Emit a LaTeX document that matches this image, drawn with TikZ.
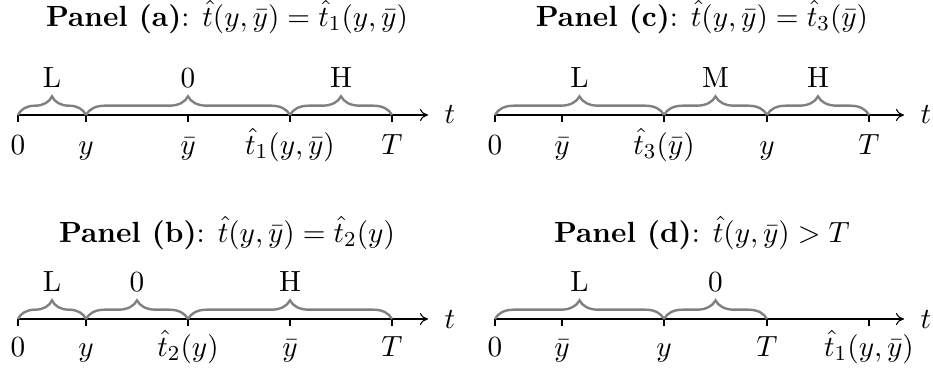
\documentclass[tikz,border=0pt]{standalone}
\usetikzlibrary{decorations.pathreplacing,arrows.meta}
\begin{document}
\begin{tikzpicture}[x=0.375pt,y=-0.375pt,
  every node/.style={font=\fontsize{10.95}{13.6}\selectfont},
  axis/.style={-{To[length=3pt,width=4.5pt]}, line width=0.4pt},
  tickmark/.style={line width=0.4pt},
  br/.style={decorate, decoration={brace,amplitude=7pt}, draw=gray, line width=0.9pt},
  ticklab/.style={anchor=base, inner sep=0pt},
  brlab/.style={anchor=base, inner sep=0pt},
  tlab/.style={anchor=base west, inner sep=0pt},
  ptitle/.style={anchor=base, inner sep=0pt}]
\useasboundingbox (0,0) rectangle (933,371);

% ---------------- Panel (a)
\node[ptitle] (ta) at (227,26) {\textbf{Panel (a)}: $\hat t(y,\bar y)=\hat t_1(y,\bar y)$};
\coordinate (a0) at (18,115);
\coordinate (a1) at (86,115);
\coordinate (a2) at (188,115);
\coordinate (a3) at (290,115);
\coordinate (a4) at (392,115);
\coordinate (aE) at (428,115);
\draw[axis] (a0) -- (aE);
\node[tlab] (at) at (444,123) {$t$};
\foreach \c/\l in {a0/{0},a1/{y},a2/{\bar y},a3/{\hat t_1(y,\bar y)},a4/{T}}{
  \draw[tickmark] (\c) -- ++(0,7);
  \node[ticklab] (\c-l) at ([yshift=-39*0.375pt]\c) {$\l$};
}
\draw[br] (a0) -- (a1) coordinate[midway] (ab1);
\draw[br] (a1) -- (a3) coordinate[midway] (ab2);
\draw[br] (a3) -- (a4) coordinate[midway] (ab3);
\node[brlab] (aL) at ([yshift=28*0.375pt]ab1) {L};
\node[brlab] (aZ) at ([yshift=28*0.375pt]ab2) {0};
\node[brlab] (aH) at ([yshift=28*0.375pt]ab3) {H};

% ---------------- Panel (c)
\node[ptitle] (tc) at (702,26) {\textbf{Panel (c)}: $\hat t(y,\bar y)=\hat t_3(\bar y)$};
\coordinate (c0) at (495,115);
\coordinate (c1) at (562,115);
\coordinate (c2) at (664,115);
\coordinate (c3) at (767,115);
\coordinate (c4) at (869,115);
\coordinate (cE) at (904,115);
\draw[axis] (c0) -- (cE);
\node[tlab] (ct) at (920,123) {$t$};
\foreach \c/\l in {c0/{0},c1/{\bar y},c2/{\hat t_3(\bar y)},c3/{y},c4/{T}}{
  \draw[tickmark] (\c) -- ++(0,7);
  \node[ticklab] (\c-l) at ([yshift=-39*0.375pt]\c) {$\l$};
}
\draw[br] (c0) -- (c2) coordinate[midway] (cb1);
\draw[br] (c2) -- (c3) coordinate[midway] (cb2);
\draw[br] (c3) -- (c4) coordinate[midway] (cb3);
\node[brlab] (cL) at ([yshift=28*0.375pt]cb1) {L};
\node[brlab] (cM) at ([yshift=28*0.375pt]cb2) {M};
\node[brlab] (cH) at ([yshift=28*0.375pt]cb3) {H};

% ---------------- Panel (b)
\node[ptitle] (tb) at (227,242) {\textbf{Panel (b)}: $\hat t(y,\bar y)=\hat t_2(y)$};
\coordinate (b0) at (18,319);
\coordinate (b1) at (86,319);
\coordinate (b2) at (188,319);
\coordinate (b3) at (290,319);
\coordinate (b4) at (392,319);
\coordinate (bE) at (428,319);
\draw[axis] (b0) -- (bE);
\node[tlab] (bt) at (444,328) {$t$};
\foreach \c/\l in {b0/{0},b1/{y},b2/{\hat t_2(y)},b3/{\bar y},b4/{T}}{
  \draw[tickmark] (\c) -- ++(0,7);
  \node[ticklab] (\c-l) at ([yshift=-37*0.375pt]\c) {$\l$};
}
\draw[br] (b0) -- (b1) coordinate[midway] (bb1);
\draw[br] (b1) -- (b2) coordinate[midway] (bb2);
\draw[br] (b2) -- (b4) coordinate[midway] (bb3);
\node[brlab] (bL) at ([yshift=28*0.375pt]bb1) {L};
\node[brlab] (bZ) at ([yshift=28*0.375pt]bb2) {0};
\node[brlab] (bH) at ([yshift=28*0.375pt]bb3) {H};

% ---------------- Panel (d)
\node[ptitle] (td) at (702,242) {\textbf{Panel (d)}: $\hat t(y,\bar y)>T$};
\coordinate (d0) at (495,319);
\coordinate (d1) at (562,319);
\coordinate (d2) at (664,319);
\coordinate (d3) at (767,319);
\coordinate (d4) at (869,319);
\coordinate (dE) at (904,319);
\draw[axis] (d0) -- (dE);
\node[tlab] (dt) at (920,328) {$t$};
\foreach \c/\l in {d0/{0},d1/{\bar y},d2/{y},d3/{T},d4/{\hat t_1(y,\bar y)}}{
  \draw[tickmark] (\c) -- ++(0,7);
  \node[ticklab] (\c-l) at ([yshift=-37*0.375pt]\c) {$\l$};
}
\draw[br] (d0) -- (d2) coordinate[midway] (db1);
\draw[br] (d2) -- (d3) coordinate[midway] (db2);
\node[brlab] (dL) at ([yshift=28*0.375pt]db1) {L};
\node[brlab] (dZ) at ([yshift=28*0.375pt]db2) {0};
\end{tikzpicture}
\end{document}
